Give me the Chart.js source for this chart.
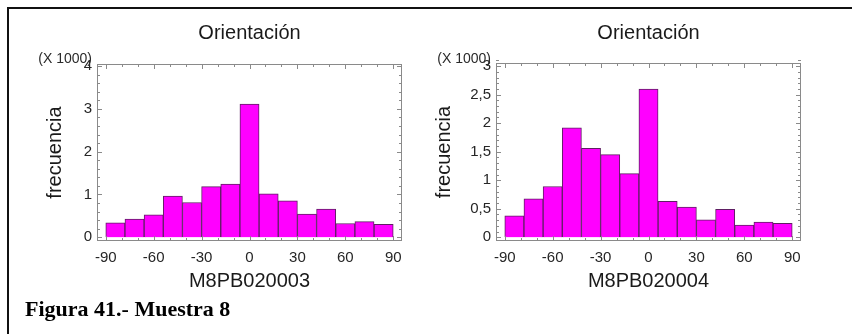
<!DOCTYPE html>
<html>
<head>
<meta charset="utf-8">
<script src="https://cdn.jsdelivr.net/npm/chart.js@4"></script>
<style>
  html, body { margin: 0; padding: 0; background: #fff; }
  #page { position: relative; width: 852px; height: 334px; overflow: hidden; background: #fff; }
  #frame { position: absolute; left: 7px; top: 7px; width: 900px; height: 400px;
           border-left: 2px solid #111; border-top: 2px solid #111; }
  canvas { position: absolute; top: 0; }
  #c1 { left: 0; }
  #c2 { left: 426px; }
  #caption { position: absolute; left: 25px; top: 298px; margin: 0;
             font: bold 22px "Liberation Serif", "Times New Roman", serif;
             line-height: 22px; color: #000; white-space: nowrap; }
</style>
</head>
<body>
<div id="page">
  <div id="frame"></div>
  <canvas id="c1" width="426" height="300"></canvas>
  <canvas id="c2" width="426" height="300"></canvas>
  <p id="caption">Figura 41.- Muestra 8</p>
</div>
<script>
// Orientation bins (degrees, bin centres, 12° wide)
const binCenters = [-84, -72, -60, -48, -36, -24, -12, 0, 12, 24, 36, 48, 60, 72, 84];

// Frequencies (x 1000) per bin
const freqM8PB020003 = [0.335, 0.425, 0.52, 0.96, 0.81, 1.18, 1.24, 3.11, 1.015, 0.85, 0.54, 0.655, 0.32, 0.365, 0.30];
const freqM8PB020004 = [0.375, 0.675, 0.89, 1.92, 1.56, 1.45, 1.115, 2.60, 0.63, 0.53, 0.305, 0.49, 0.215, 0.265, 0.245];

// Axis tick labels
const xTickValues = [-90, -60, -30, 0, 30, 60, 90];
const yTicks003 = [0, 1, 2, 3, 4];
const yTicks004 = [0, 0.5, 1, 1.5, 2, 2.5, 3];

const SANS = '"Liberation Sans", Arial, Helvetica, sans-serif';

// Frame, inward tick marks and panel texts
const panelDecor = {
  id: 'panelDecor',
  afterDraw(chart, args, o) {
    const { ctx, chartArea: a, scales: { x, y } } = chart;
    ctx.save();
    ctx.strokeStyle = '#8a8a8a';
    ctx.lineWidth = 1;
    ctx.strokeRect(a.left + 0.5, a.top + 0.5, a.right - a.left - 1, a.bottom - a.top - 1);

    ctx.beginPath();
    for (let v = -90; v <= 90; v += 10) {
      const len = (v % 30 === 0) ? 5 : 3;
      const px = Math.round(x.getPixelForValue(v)) + 0.5;
      ctx.moveTo(px, a.bottom); ctx.lineTo(px, a.bottom - len);
      ctx.moveTo(px, a.top); ctx.lineTo(px, a.top + len);
    }
    const n = Math.round(o.yMax / o.yMinorStep);
    for (let i = 0; i <= n; i++) {
      const v = i * o.yMinorStep;
      const major = Math.abs(v / o.yMajorStep - Math.round(v / o.yMajorStep)) < 1e-6;
      const len = major ? 5 : 3;
      const py = Math.round(y.getPixelForValue(v)) + 0.5;
      ctx.moveTo(a.left, py); ctx.lineTo(a.left + len, py);
      ctx.moveTo(a.right, py); ctx.lineTo(a.right - len, py);
    }
    ctx.stroke();

    const cx = (a.left + a.right) / 2;
    ctx.fillStyle = '#1a1a1a';
    ctx.textAlign = 'center';
    ctx.textBaseline = 'middle';
    ctx.font = '20px ' + SANS;
    ctx.fillText(o.title, cx, 33);

    ctx.font = '20px ' + SANS;
    ctx.fillText(o.xTitle, cx, 281);

    ctx.save();
    ctx.translate(a.left - o.yTitleOffset, (a.top + a.bottom) / 2);
    ctx.rotate(-Math.PI / 2);
    ctx.font = '20px ' + SANS;
    ctx.fillText(o.yTitle, 0, 0);
    ctx.restore();

    ctx.textAlign = 'right';
    ctx.textBaseline = 'alphabetic';
    ctx.font = '14px ' + SANS;
    ctx.fillStyle = '#2a2a2a';
    ctx.fillText('(X 1000)', a.left - 5, 63);
    ctx.restore();
  }
};

function makeChart(id, values, yTicks, yMin, yMax, minorStep, majorStep, pad, xTitle, yTitleOffset) {
  return new Chart(document.getElementById(id), {
    type: 'bar',
    data: {
      datasets: [{
        data: binCenters.map((c, i) => ({ x: c, y: values[i] })),
        backgroundColor: '#ff00ff',
        borderColor: '#5f1f63',
        borderWidth: 1,
        barPercentage: 1,
        categoryPercentage: 1
      }]
    },
    options: {
      responsive: false,
      animation: false,
      events: [],
      layout: { padding: pad },
      plugins: {
        legend: { display: false },
        tooltip: { enabled: false },
        title: { display: false },
        panelDecor: {
          title: 'Orientación', xTitle, yTitle: 'frecuencia', yTitleOffset,
          yMax, yMinorStep: minorStep, yMajorStep: majorStep
        }
      },
      scales: {
        x: {
          type: 'linear', offset: false, min: -95.5, max: 95.5,
          grid: { display: false, drawTicks: false },
          border: { display: false },
          afterBuildTicks: s => { s.ticks = xTickValues.map(v => ({ value: v })); },
          afterFit: s => { s.height = 30; },
          ticks: { autoSkip: false, maxRotation: 0, padding: 8, color: '#262626',
                   font: { family: SANS, size: 15 } }
        },
        y: {
          min: yMin, max: yMax,
          grid: { display: false, drawTicks: false },
          border: { display: false },
          afterBuildTicks: s => { s.ticks = yTicks.map(v => ({ value: v })); },
          afterFit: s => { s.width = 40; },
          ticks: { padding: 5, color: '#262626', font: { family: SANS, size: 15 },
                   callback: v => String(v).replace('.', ',') }
        }
      }
    },
    plugins: [panelDecor]
  });
}

makeChart('c1', freqM8PB020003, yTicks003, -0.09, 4.05, 0.2, 1,
  { left: 57, top: 64, right: 24, bottom: 29 }, 'M8PB020003', 42);
makeChart('c2', freqM8PB020004, yTicks004, -0.065, 3.055, 0.1, 0.5,
  { left: 30, top: 63, right: 51, bottom: 29 }, 'M8PB020004', 52);
</script>
</body>
</html>
